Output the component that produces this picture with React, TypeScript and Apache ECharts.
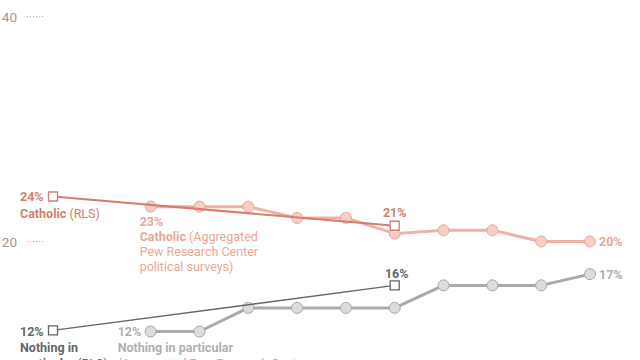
import React, { useEffect, useRef } from "react";
import * as echarts from "echarts";

const rlsYears = [2007, 2014];
const catholicRLS = [24, 21.4];
const nothingRLS = [12.1, 16.1];

const pewYears = [2009, 2010, 2011, 2012, 2013, 2014, 2015, 2016, 2017, 2018];
const catholicPew = [23.1, 23.1, 23.1, 22.1, 22.1, 20.7, 21, 21, 20, 20];
const nothingPew = [12, 12, 14.1, 14.1, 14.1, 14.1, 16.1, 16.1, 16.1, 17.1];

const yTicks = [0, 20, 40];

const FONT = "Roboto, 'Liberation Sans', sans-serif";
const C_RLS = "#d67d6e";
const C_PEW = "#ecb2a7";
const C_PEW_TXT = "#e9a699";
const N_RLS = "#666666";
const N_PEW = "#aaaaaa";
const N_PEW_TXT = "#b0b0b0";

const pair = (xs: number[], ys: number[]) => xs.map((x, i) => [x, ys[i]]);

export default function App() {
  const ref = useRef<HTMLDivElement>(null);
  useEffect(() => {
    document.body.style.margin = "0";
    const chart = echarts.init(ref.current!, null, { renderer: "svg" });
    const option: any = {
      animation: false,
      backgroundColor: "#ffffff",
      grid: { left: 53, right: 50, top: 16.5, height: 450, containLabel: false, outerBoundsMode: "none" },
      xAxis: { type: "value", min: 2007, max: 2018, show: false },
      yAxis: {
        type: "value",
        min: yTicks[0],
        max: yTicks[yTicks.length - 1],
        interval: 20,
        offset: 10,
        axisLine: { show: false },
        splitLine: { show: false },
        axisTick: { show: true, length: 17, lineStyle: { color: "#b0b0b0", type: [1, 2], width: 1 } },
        axisLabel: { color: "#9a9a9a", fontSize: 13.5, fontFamily: FONT, margin: 26 },
      },
      series: [
        {
          type: "line",
          data: pair(pewYears, catholicPew),
          symbol: "circle",
          symbolSize: 11,
          lineStyle: { color: C_PEW, width: 3 },
          itemStyle: { color: "#f6cec6", borderColor: "#eaa89b", borderWidth: 1 },
          z: 2,
        },
        {
          type: "line",
          data: pair(pewYears, nothingPew),
          symbol: "circle",
          symbolSize: 11,
          lineStyle: { color: N_PEW, width: 3 },
          itemStyle: { color: "#dcdcdc", borderColor: "#a8a8a8", borderWidth: 1 },
          z: 2,
        },
        {
          type: "line",
          data: pair(rlsYears, catholicRLS),
          symbol: "rect",
          symbolSize: 9,
          lineStyle: { color: C_RLS, width: 2 },
          itemStyle: { color: "#ffffff", borderColor: C_RLS, borderWidth: 1.3 },
          z: 3,
        },
        {
          type: "line",
          data: pair(rlsYears, nothingRLS),
          symbol: "rect",
          symbolSize: 9,
          lineStyle: { color: N_RLS, width: 1.5 },
          itemStyle: { color: "#ffffff", borderColor: N_RLS, borderWidth: 1.3 },
          z: 3,
        },
      ],
    };
    chart.setOption(option);

    const px = (x: number, y: number) => chart.convertToPixel({ gridIndex: 0 }, [x, y]) as number[];
    const rich = (color: string) => ({
      b: { fontWeight: "bold", fill: color, fontSize: 12.5, fontFamily: FONT },
      n: { fontWeight: "normal", fill: color, fontSize: 12.5, fontFamily: FONT },
    });
    const txt = (x: number, y: number, text: string, color: string, align = "left", lh = 16) => ({
      type: "text",
      x,
      y,
      z: 10,
      style: {
        text,
        fill: color,
        fontFamily: FONT,
        fontSize: 12.5,
        lineHeight: lh,
        align,
        verticalAlign: "middle",
        rich: Object.fromEntries(Object.entries(rich(color)).map(([k, v]) => [k, { ...v, lineHeight: lh }])),
      },
    });

    const c0 = px(rlsYears[0], catholicRLS[0]);
    const c1 = px(rlsYears[1], catholicRLS[1]);
    const p0 = px(pewYears[0], catholicPew[0]);
    const pL = px(pewYears[pewYears.length - 1], catholicPew[catholicPew.length - 1]);
    const n0 = px(rlsYears[0], nothingRLS[0]);
    const n1 = px(rlsYears[1], nothingRLS[1]);
    const q0 = px(pewYears[0], nothingPew[0]);
    const qL = px(pewYears[pewYears.length - 1], nothingPew[nothingPew.length - 1]);

    const graphic = [
      txt(c0[0] - 33, c0[1] + 8, "{b|24%}\n{b|Catholic} {n|(RLS)}", C_RLS, "left", 17),
      txt(p0[0] - 11, p0[1] + 37, "{b|23%}\n{b|Catholic} {n|(Aggregated}\n{n|Pew Research Center}\n{n|political surveys)}", C_PEW_TXT, "left", 15),
      txt(c1[0], c1[1] - 13, "{b|21%}", C_RLS, "center"),
      txt(pL[0] + 9, pL[1], "{b|20%}", C_PEW_TXT, "left"),
      txt(n1[0] + 2, n1[1] - 12, "{b|16%}", N_RLS, "center"),
      txt(qL[0] + 9, qL[1], "{b|17%}", N_PEW_TXT, "left"),
      txt(n0[0] - 33, n0[1] + 17, "{b|12%}\n{b|Nothing in}\n{b|particular} {n|(RLS)}", N_RLS, "left", 16),
      txt(q0[0] - 33, q0[1] + 16, "{b|12%}\n{b|Nothing in particular}\n{n|(Aggregated Pew Research Center}", N_PEW_TXT, "left", 16),
    ];
    chart.setOption({ graphic });
    return () => chart.dispose();
  }, []);
  return <div ref={ref} style={{ width: 640, height: 360 }} />;
}
